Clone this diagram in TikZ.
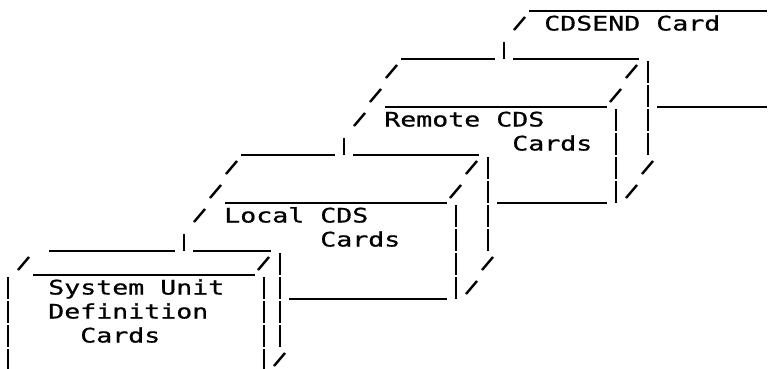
\documentclass[tikz,border=0pt]{standalone}
\usepackage{fontspec}
\newfontfamily\cardfont[FakeStretch=1.329,FakeBold=0.8]{DejaVu Sans Mono}
\tikzset{
  ln/.style={line width=1.5pt, line cap=butt, black},
  txt/.style={font=\cardfont\fontsize{15}{18}\selectfont, inner sep=0pt, anchor=base west}
}
% underscore run: cols #1..#2 on row #3
\newcommand\hrun[3]{\draw[ln] ({16*#1+1},{11+24*#3}) -- ({16*(#2+1)-1},{11+24*#3});}
% vertical bar: col #1, rows #2..#3
\newcommand\vrun[3]{\foreach \r in {#2,...,#3}{\draw[ln] ({16*#1+8},{11+24*\r-22}) -- ({16*#1+8},{11+24*\r});}}
% single short bar: col #1 row #2
\newcommand\vone[2]{\draw[ln] ({16*#1+8},{11+24*#2-17}) -- ({16*#1+8},{11+24*#2});}
% slash: col #1 row #2
\newcommand\dslash[2]{\draw[ln, line width=1.8pt] ({16*#1+2},{24*#2+6}) -- ({16*#1+13},{24*#2-7});}
\begin{document}
\begin{tikzpicture}[x=0.75pt,y=-0.75pt]
\useasboundingbox (0,0) rectangle (773,368);
% underscores
\hrun{33}{47}{0}
\hrun{25}{30}{2} \hrun{32}{39}{2}
\hrun{24}{37}{4} \hrun{41}{47}{4}
\hrun{15}{20}{6} \hrun{22}{29}{6}
\hrun{14}{27}{8} \hrun{31}{37}{8}
\hrun{3}{10}{10} \hrun{12}{16}{10}
\hrun{2}{15}{11}
\hrun{18}{27}{12}
% vertical bars
\vone{31}{2}
\vrun{40}{3}{6}
\vrun{38}{5}{8}
\vone{21}{6}
\vrun{30}{7}{10}
\vrun{28}{9}{12}
\vone{11}{10}
\vrun{17}{11}{14}
\vrun{16}{12}{15}
\vrun{0}{12}{15}
% slashes
\dslash{32}{1}
\dslash{24}{3} \dslash{23}{4} \dslash{22}{5}
\dslash{39}{3} \dslash{38}{4}
\dslash{40}{7} \dslash{39}{8}
\dslash{14}{7} \dslash{13}{8} \dslash{12}{9}
\dslash{29}{7} \dslash{28}{8}
\dslash{30}{11} \dslash{29}{12}
\dslash{1}{11} \dslash{16}{11}
\dslash{17}{15}
% texts
\node[txt] (cdsend) at ({16*34},{11+24*1-4.5}) {CDSEND Card};
\node[txt] (remote) at ({16*24},{11+24*5-4.5}) {Remote CDS};
\node[txt] (remotec) at ({16*32},{11+24*6-4.5}) {Cards};
\node[txt] (local) at ({16*14},{11+24*9-4.5}) {Local CDS};
\node[txt] (localc) at ({16*20},{11+24*10-4.5}) {Cards};
\node[txt] (sys1) at ({16*3},{11+24*12-4.5}) {System Unit};
\node[txt] (sys2) at ({16*3},{11+24*13-4.5}) {Definition};
\node[txt] (sys3) at ({16*5},{11+24*14-4.5}) {Cards};
\end{tikzpicture}
\end{document}
